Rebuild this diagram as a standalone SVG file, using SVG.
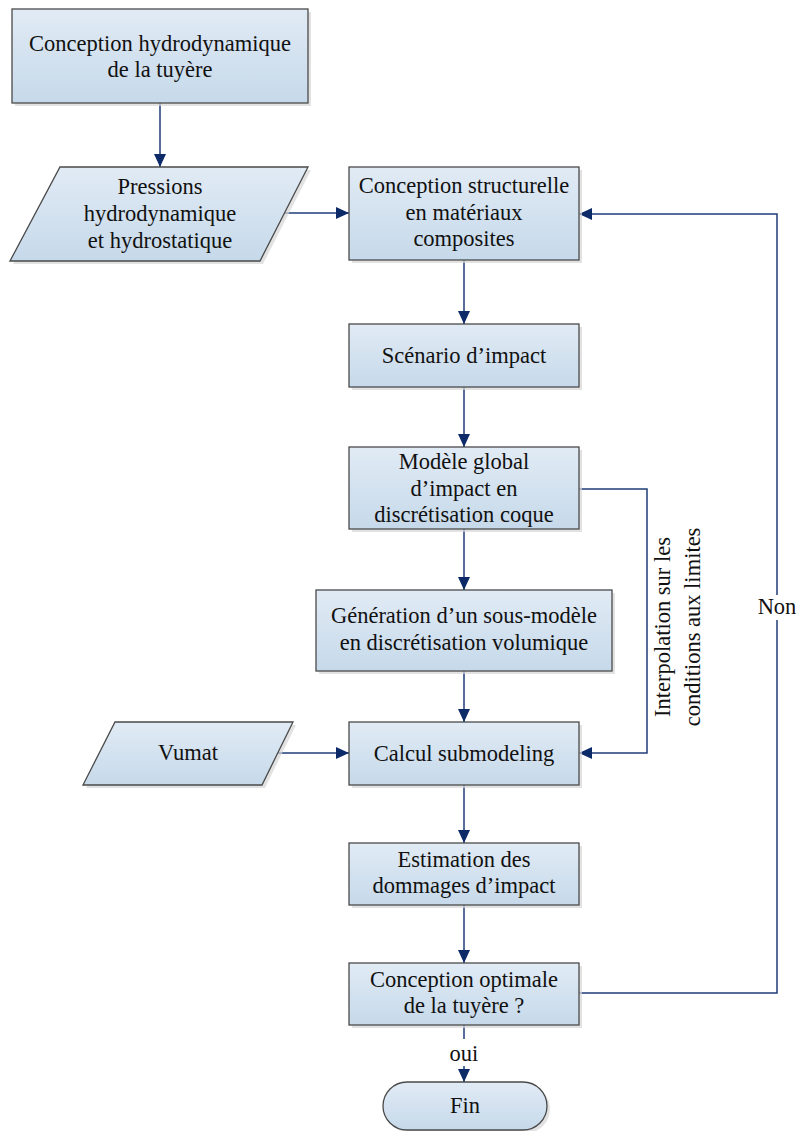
<svg xmlns="http://www.w3.org/2000/svg" width="798" height="1131" viewBox="0 0 798 1131">
<defs>
<linearGradient id="g" x1="0" y1="0" x2="0" y2="1">
<stop offset="0" stop-color="#e1ebf5"/>
<stop offset="1" stop-color="#c6d9ea"/>
</linearGradient>
<marker id="ah" markerUnits="userSpaceOnUse" markerWidth="14" markerHeight="12" refX="13" refY="6" orient="auto">
<path d="M0,0 L13,6 L0,12 z" fill="#0c2a68"/>
</marker>
<style>
.s{fill:url(#g);stroke:#4a4a4a;stroke-width:1.3}
.sh{fill:#d6d6d6;opacity:0.7}
.t{font-family:'Liberation Serif','Times New Roman',Times,serif;font-size:22.5px;fill:#111;text-anchor:middle}
.c{fill:none;stroke:#1f3d78;stroke-width:1.5}
.a{marker-end:url(#ah)}
</style>
</defs>
<rect width="798" height="1131" fill="#fff"/>

<g id="connectors">
<line class="c a" x1="160" y1="103" x2="160" y2="167"/>
<line class="c a" x1="283" y1="213" x2="349" y2="213"/>
<line class="c a" x1="464" y1="260" x2="464" y2="324"/>
<line class="c a" x1="464" y1="387" x2="464" y2="447"/>
<line class="c a" x1="464" y1="529" x2="464" y2="590"/>
<line class="c a" x1="464" y1="671" x2="464" y2="722"/>
<line class="c a" x1="278" y1="753" x2="349" y2="753"/>
<line class="c a" x1="464" y1="785" x2="464" y2="843"/>
<line class="c a" x1="464" y1="905" x2="464" y2="963"/>
<polyline class="c a" points="579,489 647,489 647,753 579,753"/>
<polyline class="c" points="579,993 777,993 777,620"/>
<polyline class="c a" points="777,595 777,214 579,214"/>
<line class="c" x1="464" y1="1025" x2="464" y2="1039"/>
<line class="c a" x1="464" y1="1066" x2="464" y2="1082"/>
<text class="t" x="777" y="614">Non</text>
<text class="t" x="464" y="1061">oui</text>
<text class="t" transform="translate(670,627) rotate(-90)" x="0" y="0">Interpolation sur les</text>
<text class="t" transform="translate(700,627) rotate(-90)" x="0" y="0">conditions aux limites</text>
</g>

<g id="n1">
<rect class="sh" x="15" y="12" width="296" height="94"/>
<rect class="s" x="12" y="9" width="296" height="94"/>
<text class="t" x="160" y="51">Conception hydrodynamique</text>
<text class="t" x="160" y="77">de la tuyère</text>
</g>

<g id="n2">
<polygon class="sh" points="63,170 311,170 263,264 13,264"/>
<polygon class="s" points="60,167 308,167 260,261 10,261"/>
<text class="t" x="160" y="194">Pressions</text>
<text class="t" x="160" y="221">hydrodynamique</text>
<text class="t" x="160" y="248">et hydrostatique</text>
</g>

<g id="n3">
<rect class="sh" x="352" y="170" width="230" height="93"/>
<rect class="s" x="349" y="167" width="230" height="93"/>
<text class="t" x="464" y="193">Conception structurelle</text>
<text class="t" x="464" y="220">en matériaux</text>
<text class="t" x="464" y="246">composites</text>
</g>

<g id="n4">
<rect class="sh" x="352" y="327" width="230" height="63"/>
<rect class="s" x="349" y="324" width="230" height="63"/>
<text class="t" x="464" y="363">Scénario d’impact</text>
</g>

<g id="n5">
<rect class="sh" x="352" y="450" width="230" height="82"/>
<rect class="s" x="349" y="447" width="230" height="82"/>
<text class="t" x="464" y="469">Modèle global</text>
<text class="t" x="464" y="496">d’impact en</text>
<text class="t" x="464" y="522">discrétisation coque</text>
</g>

<g id="n6">
<rect class="sh" x="319" y="593" width="296" height="81"/>
<rect class="s" x="316" y="590" width="296" height="81"/>
<text class="t" x="464" y="623">Génération d’un sous-modèle</text>
<text class="t" x="464" y="650">en discrétisation volumique</text>
</g>

<g id="n7">
<polygon class="sh" points="118,725 296,725 265,788 86,788"/>
<polygon class="s" points="115,722 293,722 262,785 83,785"/>
<text class="t" x="188" y="760">Vumat</text>
</g>

<g id="n8">
<rect class="sh" x="352" y="725" width="230" height="63"/>
<rect class="s" x="349" y="722" width="230" height="63"/>
<text class="t" x="464" y="761">Calcul submodeling</text>
</g>

<g id="n9">
<rect class="sh" x="352" y="846" width="230" height="62"/>
<rect class="s" x="349" y="843" width="230" height="62"/>
<text class="t" x="464" y="867">Estimation des</text>
<text class="t" x="464" y="893">dommages d’impact</text>
</g>

<g id="n10">
<rect class="sh" x="352" y="966" width="230" height="62"/>
<rect class="s" x="349" y="963" width="230" height="62"/>
<text class="t" x="464" y="987">Conception optimale</text>
<text class="t" x="464" y="1013">de la tuyère ?</text>
</g>

<g id="n11">
<rect class="sh" x="386" y="1085" width="164" height="48" rx="24"/>
<rect class="s" x="383" y="1082" width="164" height="48" rx="24"/>
<text class="t" x="465" y="1113">Fin</text>
</g>
</svg>
